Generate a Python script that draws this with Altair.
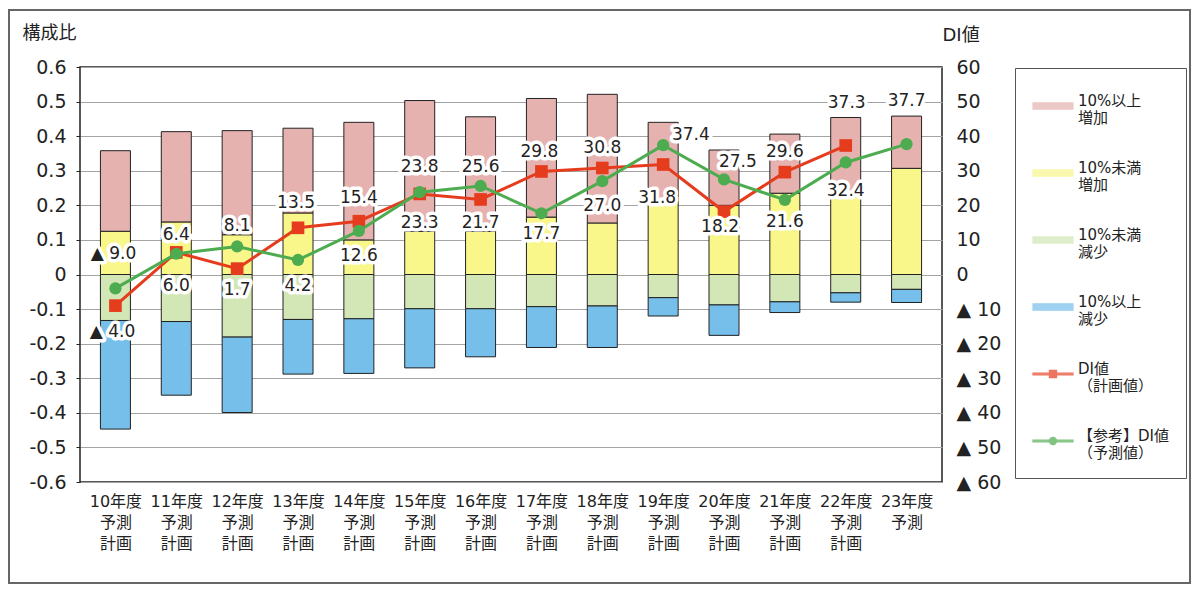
import json

import altair as alt
import pandas as pd

FONT = "DejaVu Sans, Noto Sans CJK JP, sans-serif"
W, H = 862, 415

# --- data ---
years = ["10年度", "11年度", "12年度", "13年度", "14年度", "15年度", "16年度",
         "17年度", "18年度", "19年度", "20年度", "21年度", "22年度", "23年度"]
year_sub = [["予測", "計画"]] * 13 + [["予測"]]

series = ["10%以上|増加", "10%未満|増加", "10%未満|減少", "10%以上|減少",
          "DI値|（計画値）", "【参考】DI値|（予測値）"]
colors = ["#e5b2b0", "#f9f68a", "#d3e6b6", "#76bfea", "#e63c1e", "#4dac4f"]

inc_large = [0.233, 0.261, 0.301, 0.245, 0.340, 0.378, 0.331, 0.343, 0.372, 0.230, 0.160, 0.171, 0.224, 0.151]
inc_small = [0.125, 0.152, 0.115, 0.178, 0.100, 0.125, 0.125, 0.166, 0.149, 0.210, 0.200, 0.235, 0.230, 0.307]
dec_small = [0.133, 0.136, 0.181, 0.130, 0.128, 0.099, 0.099, 0.093, 0.091, 0.067, 0.088, 0.079, 0.053, 0.043]
dec_large = [0.314, 0.213, 0.218, 0.158, 0.158, 0.171, 0.139, 0.118, 0.120, 0.053, 0.088, 0.031, 0.027, 0.038]

di_plan = [-9.0, 6.4, 1.7, 13.5, 15.4, 23.3, 21.7, 29.8, 30.8, 31.8, 18.2, 29.6, 37.3]
di_fcst = [-4.0, 6.0, 8.1, 4.2, 12.6, 23.8, 25.6, 17.7, 27.0, 37.4, 27.5, 21.6, 32.4, 37.7]

# label offsets in pixels (style only)
plan_dy = [-52, -17, 21, -25, -23, 29, 24, -19, -20, 33, 15, -20, -43]
plan_dx = [-2, 0, 0, -2, 0, 0, 0, -2, 0, -6, -4, 0, 1]
fcst_dy = [44, 32, -20, 26, 25, -25, -19, 21, 25, -10, -17, 22, 29, -43]
fcst_dx = [-3, 0, 0, 0, 0, 0, 0, 0, 0, 28, 14, 0, 0, 0]

# --- tables ---
bar_rows = []
for i in range(len(years)):
    bar_rows.append({"idx": i, "series": series[1], "value": inc_small[i], "ord": 0})
    bar_rows.append({"idx": i, "series": series[0], "value": inc_large[i], "ord": 1})
    bar_rows.append({"idx": i, "series": series[2], "value": -dec_small[i], "ord": 0})
    bar_rows.append({"idx": i, "series": series[3], "value": -dec_large[i], "ord": 1})
bar_df = pd.DataFrame(bar_rows)

plan_df = pd.DataFrame({"idx": range(len(di_plan)), "series": series[4], "value": di_plan})
fcst_df = pd.DataFrame({"idx": range(len(di_fcst)), "series": series[5], "value": di_fcst})
legend_df = pd.DataFrame({"series": series})

px_x = W / 14
px_y = H / 120


def fmt(v):
    return f"▲ {abs(v):.1f}" if v < 0 else f"{v:.1f}"


lab_rows = []
for vals, dys, dxs in [(di_plan, plan_dy, plan_dx), (di_fcst, fcst_dy, fcst_dx)]:
    for i, v in enumerate(vals):
        lab_rows.append({"lx": i + dxs[i] / px_x, "ly": v - dys[i] / px_y, "txt": fmt(v)})
lab_df = pd.DataFrame(lab_rows)

# --- encodings ---
x_labels = json.dumps([[y] + s for y, s in zip(years, year_sub)], ensure_ascii=False)
x_scale = alt.Scale(domain=[-0.5, 13.5], nice=False, zero=False)
x_axis = alt.Axis(values=list(range(14)), labelExpr=f"{x_labels}[datum.value]", grid=False,
                  ticks=False, domain=False, title=None, labelFontSize=16, labelBaseline="top",
                  labelLineHeight=21, labelPadding=11, labelOverlap=False, labelFlush=False)

rect_path = "M-1,-0.16H1V0.16H-1Z"
plan_path = "M-1,-0.04H1V0.04H-1ZM-0.18,-0.18H0.18V0.18H-0.18Z"
fcst_path = "M-1,-0.04H1V0.04H-1ZM0.18,0A0.18,0.18,0,1,1,-0.18,0A0.18,0.18,0,1,1,0.18,0Z"
shapes = [rect_path] * 4 + [plan_path, fcst_path]
strokes = ["#333"] * 4 + colors[4:]

legend = alt.Legend(
    title=None, orient="none", legendX=935, legendY=1, direction="vertical",
    symbolSize=1600, symbolStrokeWidth=1.2, labelExpr="split(datum.label, '|')",
    labelFont=FONT, labelFontSize=15, labelColor="#222", labelOffset=4,
    labelBaseline="alphabetic", rowPadding=26, padding=17, strokeColor="#555",
    fillColor="white",
)
color_scale = alt.Scale(domain=series, range=colors)
color_nolegend = alt.Color("series:N", scale=color_scale, legend=None)

y_left = alt.Y(
    "value:Q", stack="zero", scale=alt.Scale(domain=[-0.6, 0.6], nice=False),
    axis=alt.Axis(
        values=[round(-0.6 + 0.1 * k, 1) for k in range(13)],
        labelExpr="datum.value < 0 ? '-' + format(-datum.value, '.1f') : (datum.value == 0 ? '0' : format(datum.value, '.1f'))",
        grid=True, gridColor="#a3a3a3", gridWidth=1, domain=False, tickColor="#222", tickSize=4,
        labelFontSize=19, labelPadding=10, title="構成比", titleAngle=0, titleX=-58, titleY=-34,
        titleAlign="left", titleBaseline="middle", titleFontSize=18, titleFontWeight="normal"),
)


def y_right(field):
    return alt.Y(
        f"{field}:Q", scale=alt.Scale(domain=[-60, 60], nice=False),
        axis=alt.Axis(
            orient="right", values=list(range(-60, 61, 10)),
            labelExpr="datum.value < 0 ? '▲ ' + format(-datum.value, 'd') : format(datum.value, 'd')",
            grid=False, ticks=False, domain=False, labelFontSize=19, labelPadding=14,
            title="DI値", titleAngle=0, titleX=0, titleY=-32, titleAlign="left",
            titleBaseline="middle", titleFontSize=18, titleFontWeight="normal"),
    )


# --- marks ---
frame = alt.Chart(pd.DataFrame({"k": [0]})).mark_rect(
    fillOpacity=0, stroke="#666", strokeWidth=2).encode(
    x=alt.value(-71), x2=alt.value(1110), y=alt.value(-57), y2=alt.value(516))

# legend-only layer (no rows drawn)
legend_layer = alt.Chart(legend_df).mark_point(filled=True).encode(
    color=alt.Color("series:N", scale=color_scale, legend=legend),
    shape=alt.Shape("series:N", scale=alt.Scale(domain=series, range=shapes), legend=legend),
    stroke=alt.Stroke("series:N", scale=alt.Scale(domain=series, range=strokes), legend=legend),
).transform_filter("false")

bars = alt.Chart(bar_df).mark_bar(size=30, stroke="#222", strokeWidth=1).encode(
    x=alt.X("idx:Q", scale=x_scale, axis=x_axis),
    y=y_left,
    color=color_nolegend,
    order=alt.Order("ord:Q"),
)

x_enc = alt.X("idx:Q", scale=x_scale, axis=x_axis)
plan_line = alt.Chart(plan_df).mark_line(strokeWidth=3).encode(x=x_enc, y=y_right("value"), color=color_nolegend)
plan_pts = alt.Chart(plan_df).mark_point(shape="square", filled=True, size=160, opacity=1).encode(
    x=x_enc, y=y_right("value"), color=color_nolegend)
fcst_line = alt.Chart(fcst_df).mark_line(strokeWidth=3).encode(x=x_enc, y=y_right("value"), color=color_nolegend)
fcst_pts = alt.Chart(fcst_df).mark_point(shape="circle", filled=True, size=150, opacity=1).encode(
    x=x_enc, y=y_right("value"), color=color_nolegend)

lx = alt.X("lx:Q", scale=x_scale, axis=x_axis)
halo = alt.Chart(lab_df).mark_text(
    font=FONT, fontSize=17, stroke="white", strokeWidth=7, strokeJoin="round", fill="white").encode(
    x=lx, y=y_right("ly"), text="txt:N")
labels = alt.Chart(lab_df).mark_text(font=FONT, fontSize=17, color="#222").encode(
    x=lx, y=y_right("ly"), text="txt:N")

right = alt.layer(plan_line, plan_pts, fcst_line, fcst_pts, halo, labels)

chart = alt.layer(frame, legend_layer, bars, right).resolve_scale(y="independent").properties(
    width=W, height=H,
    padding={"left": 72, "top": 59, "right": 250, "bottom": 103},
    autosize=alt.AutoSizeParams(type="none"),
    background="white",
).configure_view(stroke="#222", strokeWidth=1.5).configure_axis(
    labelFont=FONT, titleFont=FONT, labelColor="#222", titleColor="#222")

chart.save("out.html", embed_options={"renderer": "svg", "actions": False})
